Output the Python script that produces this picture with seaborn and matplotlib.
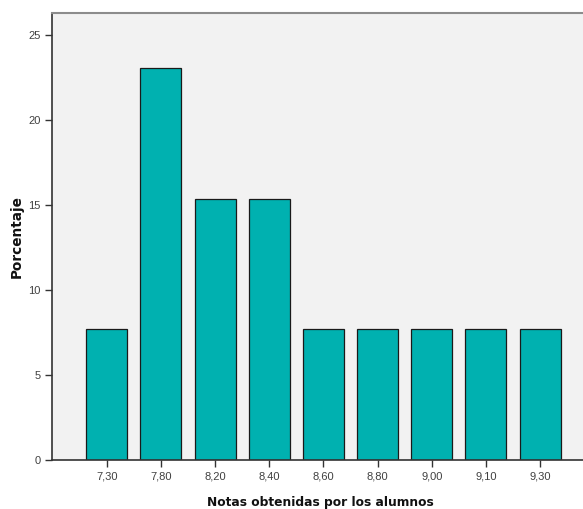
import matplotlib
matplotlib.use("Agg")
import matplotlib.pyplot as plt
import seaborn as sns
import pandas as pd

notas = ["7,30", "7,80", "8,20", "8,40", "8,60", "8,80", "9,00", "9,10", "9,30"]
porcentaje = [7.69, 23.08, 15.38, 15.38, 7.69, 7.69, 7.69, 7.69, 7.69]
yticks = [0, 5, 10, 15, 20, 25]

df = pd.DataFrame({"Notas": notas, "Porcentaje": porcentaje})

sns.set_style("white")
plt.rcParams['font.family'] = ['Liberation Sans', 'DejaVu Sans']

fig = plt.figure(figsize=(5.83, 5.09), dpi=100)
ax_w = 1 - 52/583 + 0.01
ax = fig.add_axes([52/583, 49/509, ax_w, (460-13)/509])
ax.set_facecolor("#f2f2f2")

sns.barplot(data=df, x="Notas", y="Porcentaje", order=notas, color="#00b1b0",
            saturation=1, width=0.755, edgecolor="#1a1a1a", linewidth=0.9, ax=ax)

ax.set_xlim(-1.01, 8.9)
ax.set_ylim(0, 26.3)
ax.set_yticks(yticks)
ax.set_yticklabels([str(v) for v in yticks])

ax.spines["right"].set_visible(False)
ax.spines["top"].set_color("#8c8c8c")
ax.spines["top"].set_linewidth(1.5)
for s in ["left", "bottom"]:
    ax.spines[s].set_color("#333333")
    ax.spines[s].set_linewidth(1.2)

ax.tick_params(axis="both", direction="out", length=5, width=1, color="#333333",
               labelsize=8, labelcolor="#404040", left=True, bottom=True, pad=3)

ax.set_xlabel("Notas obtenidas por los alumnos", fontsize=8.8, fontweight="bold",
              color="#111111", labelpad=11, family=["DejaVu Sans"])
ax.set_ylabel("Porcentaje", fontsize=9.8, fontweight="bold", color="#111111",
              family=["DejaVu Sans"])
ax.yaxis.set_label_coords(-0.052, 0.5)

fig.savefig("out.png", dpi=100)
